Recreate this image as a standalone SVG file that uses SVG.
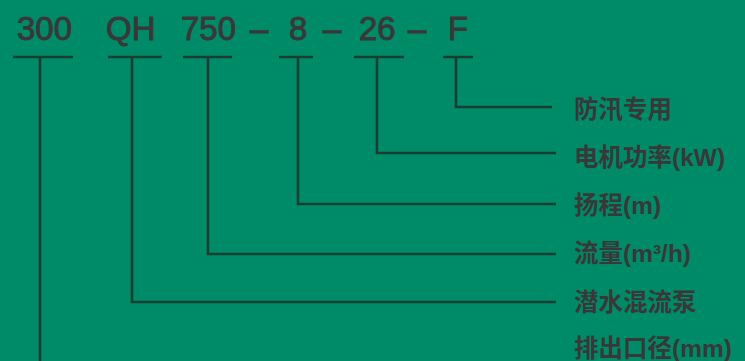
<svg xmlns="http://www.w3.org/2000/svg" width="745" height="361" viewBox="0 0 745 361">
<style>
.code{font-family:"Liberation Sans",Arial,sans-serif;font-size:33px;fill:#383838;stroke:#383838;stroke-width:0.9}
.lbl{font-family:"Liberation Sans","Noto Sans CJK SC",sans-serif;font-size:24.5px;font-weight:bold;fill:#383838}
.ln{stroke:#1a3e31;stroke-width:2.6;fill:none}
</style>
<rect width="745" height="361" fill="#008b68"/>
<g id="code">
<text class="code" x="17" y="40">300</text>
<text class="code" x="106" y="40">QH</text>
<text class="code" x="181" y="40">750</text>
<text class="code" x="250" y="40">–</text>
<text class="code" x="289" y="40">8</text>
<text class="code" x="323" y="40">–</text>
<text class="code" x="359" y="40">26</text>
<text class="code" x="408" y="40">–</text>
<text class="code" x="448" y="40">F</text>
</g>
<g id="connectors">
<path class="ln" d="M13 57H73M40 57V364H556"/>
<path class="ln" d="M108 57H162M132 57V302H556"/>
<path class="ln" d="M183 57H232M208 57V254H556"/>
<path class="ln" d="M279 57H313M298 57V204H556"/>
<path class="ln" d="M354 57H404M377 57V153H556"/>
<path class="ln" d="M443 57H473M456 57V107H552"/>
</g>
<g id="labels">
<text id="l1" class="lbl" x="574" y="118">防汛专用</text>
<text id="l2" class="lbl" x="574" y="166">电机功率(kW)</text>
<text id="l3" class="lbl" x="574" y="214">扬程(m)</text>
<text id="l4" class="lbl" x="574" y="262">流量(m³/h)</text>
<text id="l5" class="lbl" x="574" y="311">潜水混流泵</text>
<text id="l6" class="lbl" x="574" y="357">排出口径(mm)</text>
</g>
</svg>
